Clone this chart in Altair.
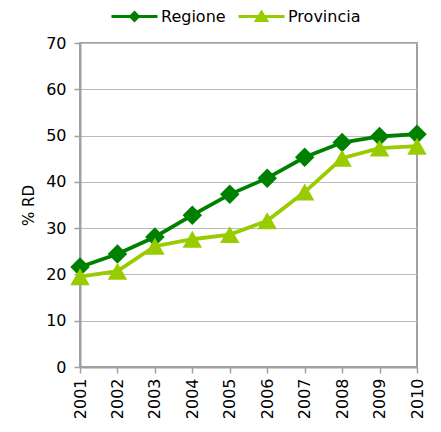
import altair as alt
import pandas as pd

anni = ["2001", "2002", "2003", "2004", "2005", "2006", "2007", "2008", "2009", "2010"]
regione = [21.6, 24.4, 28.1, 32.8, 37.3, 40.8, 45.3, 48.5, 49.8, 50.3]
provincia = [19.5, 20.7, 26.1, 27.6, 28.6, 31.6, 37.8, 45.1, 47.3, 47.7]
serie = ["Regione", "Provincia"]
colori = ["#008000", "#99CC00"]
forme = ["diamond", "triangle-up"]
legenda_forme = [
    "M-2,-0.14H2V0.14H-2Z M0,-0.52L0.52,0L0,0.52L-0.52,0Z",
    "M-2,-0.14H2V0.14H-2Z M0,-0.6L0.68,0.48L-0.68,0.48Z",
]
legenda_x = [42.5, 169.5]

df = pd.DataFrame(
    {
        "Anno": anni * 2,
        "Valore": regione + provincia,
        "Serie": ["Regione"] * len(anni) + ["Provincia"] * len(anni),
    }
)

FONT = "DejaVu Sans"
AXC = "#A0A0A0"

x = alt.X(
    "Anno:O",
    scale=alt.Scale(type="point", padding=0),
    axis=alt.Axis(
        title=None,
        labelAngle=-90,
        labelFontSize=16,
        labelColor="#000000",
        labelFont=FONT,
        labelPadding=5,
        tickSize=6,
        tickColor=AXC,
        tickWidth=1.5,
        domainColor=AXC,
        domainWidth=2,
        grid=False,
    ),
)
y = alt.Y(
    "Valore:Q",
    scale=alt.Scale(domain=[0, 70], nice=False, zero=True),
    axis=alt.Axis(
        title="% RD",
        titleFont=FONT,
        titleFontSize=15,
        titleFontWeight="normal",
        titleColor="#000000",
        titlePadding=9,
        values=[0, 10, 20, 30, 40, 50, 60, 70],
        labelFontSize=16,
        labelFont=FONT,
        labelColor="#000000",
        labelPadding=8,
        tickSize=6,
        tickColor=AXC,
        tickWidth=1.5,
        domainColor=AXC,
        domainWidth=2,
        grid=True,
        gridColor="#BBBBBB",
        gridWidth=1,
    ),
)
color = alt.Color(
    "Serie:N", scale=alt.Scale(domain=serie, range=colori), legend=None
)

base = alt.Chart(df)
lines = base.mark_line(strokeWidth=3.8).encode(x=x, y=y, color=color)
points = base.mark_point(filled=True, opacity=1, size=380).encode(
    x=x,
    y=y,
    color=color,
    shape=alt.Shape("Serie:N", scale=alt.Scale(domain=serie, range=forme), legend=None),
)

layers = [lines, points]
for nome, col, path, lx in zip(serie, colori, legenda_forme, legenda_x):
    layers.append(
        base.transform_filter(alt.datum.Serie == nome)
        .mark_point(filled=True, opacity=0, color=col)
        .encode(
            x=x,
            y=y,
            shape=alt.Shape(
                "Serie:N",
                scale=alt.Scale(domain=[nome], range=[path]),
                legend=alt.Legend(
                    title=None,
                    orient="none",
                    direction="horizontal",
                    legendX=lx,
                    legendY=-38.5,
                    labelFont=FONT,
                    labelFontSize=16,
                    labelColor="#000000",
                    symbolSize=530,
                    symbolOpacity=1,
                    symbolFillColor=col,
                    symbolStrokeWidth=0,
                    labelOffset=14.5,
                ),
            ),
        )
    )

chart = (
    alt.layer(*layers)
    .resolve_scale(shape="independent")
    .resolve_legend(shape="independent")
    .properties(
        width=337,
        height=324,
        autosize=alt.AutoSizeParams(type="none"),
        padding={"left": 72, "top": 35, "right": 16, "bottom": 57},
    )
    .configure_view(stroke=AXC, strokeWidth=2)
)

chart.save("out.html", embed_options={"renderer": "svg", "actions": False})
